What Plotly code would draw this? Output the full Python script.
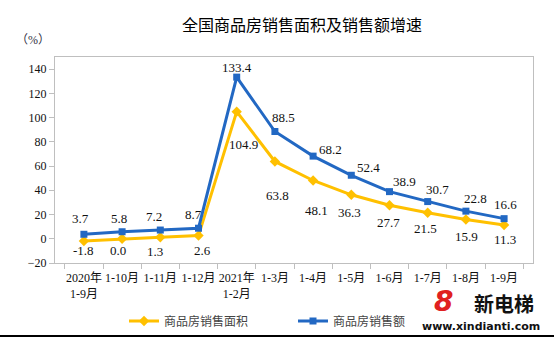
import plotly.graph_objects as go

categories = ["2020年<br>1-9月", "1-10月", "1-11月", "1-12月", "2021年<br>1-2月", "1-3月",
              "1-4月", "1-5月", "1-6月", "1-7月", "1-8月", "1-9月"]
area_growth = [-1.8, 0.0, 1.3, 2.6, 104.9, 63.8, 48.1, 36.3, 27.7, 21.5, 15.9, 11.3]
sales_growth = [3.7, 5.8, 7.2, 8.7, 133.4, 88.5, 68.2, 52.4, 38.9, 30.7, 22.8, 16.6]
y_ticks = [-20, 0, 20, 40, 60, 80, 100, 120, 140]

title_text = "全国商品房销售面积及销售额增速"
unit_text = "（%）"
name_area = "商品房销售面积"
name_sales = "商品房销售额"

# label offsets (pixels)
sales_off = [(-3, 16), (-3, 13), (-6, 14), (-5, 14), (0, 10), (9, 14), (17, 7), (17, 8),
             (15, 10), (10, 12), (10, 13), (1, 14)]
area_off = [(0, -10), (-4, -12), (-5, -14), (4, -15), (7, -33), (3, -34), (3, -30), (-2, -18),
            (-1, -17), (-2, -16), (1, -17), (1, -14)]

YELLOW = "#FFC000"
BLUE = "#2268C3"
SERIF = "Liberation Serif, Noto Sans CJK SC, serif"
CJK = "Noto Sans CJK SC, sans-serif"

W, H = 554, 338
ML, MR, MT, MB = 55, 21, 57, 75
PW, PH = W - ML - MR, H - MT - MB

def px(x):
    return (x - ML) / PW

def py(y):
    return (H - MB - y) / PH

fig = go.Figure()
fig.add_trace(go.Scatter(x=categories, y=area_growth, mode="lines+markers", name=name_area,
                         line=dict(color=YELLOW, width=3),
                         marker=dict(symbol="diamond", size=8, color=YELLOW),
                         legend="legend", showlegend=True))
fig.add_trace(go.Scatter(x=categories, y=sales_growth, mode="lines+markers", name=name_sales,
                         line=dict(color=BLUE, width=3),
                         marker=dict(symbol="square", size=7, color=BLUE),
                         legend="legend2", showlegend=True))

annotations = []
for c, v, (dx, dy) in zip(categories, sales_growth, sales_off):
    annotations.append(dict(x=c, y=v, xref="x", yref="y", text=f"{v:.1f}", showarrow=False,
                            xshift=dx, yshift=dy, font=dict(family=SERIF, size=13, color="#111")))
for c, v, (dx, dy) in zip(categories, area_growth, area_off):
    annotations.append(dict(x=c, y=v, xref="x", yref="y", text=f"{v:.1f}", showarrow=False,
                            xshift=dx, yshift=dy, font=dict(family=SERIF, size=13, color="#111")))

annotations.append(dict(x=px(302), y=py(24), xref="paper", yref="paper", text=title_text,
                        showarrow=False, yanchor="middle", xanchor="center",
                        font=dict(family=CJK, size=16, color="#000")))
annotations.append(dict(x=px(33), y=py(40), xref="paper", yref="paper", text=unit_text,
                        showarrow=False, xanchor="center", yanchor="middle",
                        font=dict(family=SERIF, size=12, color="#334")))
# watermark
annotations.append(dict(x=px(443), y=py(301), xref="paper", yref="paper", text="<b><i>8</i></b>",
                        showarrow=False, xanchor="center", yanchor="middle",
                        font=dict(family="DejaVu Sans", size=28, color="#E02020")))
annotations.append(dict(x=px(504), y=py(303), xref="paper", yref="paper", text="<b>新电梯</b>",
                        showarrow=False, xanchor="center", yanchor="middle",
                        font=dict(family=CJK, size=20, color="#111")))
annotations.append(dict(x=px(481), y=py(326), xref="paper", yref="paper", text="<b>www.xindianti.com</b>",
                        showarrow=False, xanchor="center", yanchor="middle",
                        font=dict(family="DejaVu Sans", size=11, color="#111")))

fig.update_layout(
    width=W, height=H,
    margin=dict(l=ML, r=MR, t=MT, b=MB, autoexpand=False),
    paper_bgcolor="white", plot_bgcolor="white",
    showlegend=True,
    annotations=annotations,
    legend=dict(x=124 / W, y=1 - 321 / H, xref="container", yref="container",
                xanchor="left", yanchor="middle", orientation="h",
                font=dict(family=CJK, size=12, color="#444"), bgcolor="rgba(0,0,0,0)"),
    legend2=dict(x=293 / W, y=1 - 321 / H, xref="container", yref="container",
                 xanchor="left", yanchor="middle", orientation="h",
                 font=dict(family=CJK, size=12, color="#444"), bgcolor="rgba(0,0,0,0)"),
    shapes=[dict(type="line", xref="paper", yref="paper", x0=px(0), x1=px(W), y0=py(336), y1=py(336),
                 line=dict(color="black", width=2))],
)
fig.update_xaxes(type="category", showline=True, linecolor="#BFBFBF", linewidth=1, mirror=True,
                 ticks="outside", tickson="boundaries", ticklen=5, tickcolor="#BFBFBF",
                 showgrid=False, zeroline=False, tickangle=0, ticklabelstandoff=4,
                 tickfont=dict(family=SERIF, size=12, color="#111"))
fig.update_yaxes(range=[-20, 150], tickvals=y_ticks, showline=True, linecolor="#BFBFBF", linewidth=1,
                 mirror=True, ticks="outside", ticklen=5, tickcolor="#BFBFBF", showgrid=False,
                 zeroline=False, tickfont=dict(family=SERIF, size=12, color="#111"))

fig.write_html("out.html")
